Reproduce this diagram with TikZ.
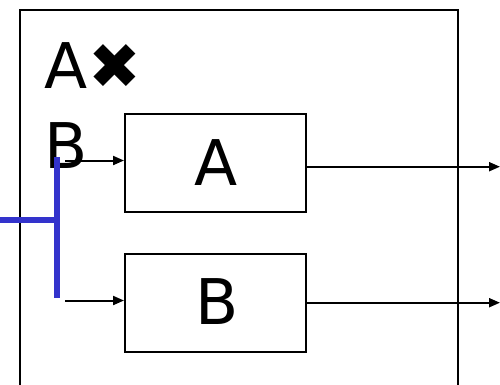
\documentclass[tikz,border=0pt]{standalone}
\usepackage{fontspec}
\setmainfont{DejaVu Sans}
\usetikzlibrary{arrows.meta}
\definecolor{blueline}{HTML}{3333CC}
\begin{document}
\begin{tikzpicture}[x=1pt,y=-1pt,
  box/.style={draw,line width=2pt,inner sep=0pt},
  conn/.style={line width=2pt,-{Triangle[length=11pt,width=9pt]}},
  lbl/.style={inner sep=0pt,font=\fontsize{63}{63}\selectfont},
  bus/.style={draw=blueline,line width=5.5pt}]
\useasboundingbox (0,0) rectangle (500,384);
% outer frame
\draw[line width=2pt] (19.5,390) -- (19.5,9.5) -- (458.3,9.5) -- (458.3,390);
% boxes
\node[box,minimum width=181pt,minimum height=98pt] (A) at (215.5,163) {};
\node[box,minimum width=181pt,minimum height=98pt] (B) at (215.5,303) {};
\node[lbl,anchor=base] (Atext) at (216,185) {A};
\node[lbl,anchor=base] (Btext) at (217,324.5) {B};
% left labels
\node[lbl,anchor=base west] (AX) at (44,88) {A\hspace{1pt}✖};
\node[lbl,anchor=base west] (Bl) at (44,168) {B};
% blue bus
\coordinate (bt) at (57,157);
\coordinate (bb) at (57,298);
\coordinate (bm) at (57,220);
\coordinate (bl) at (0,220);
\draw[bus] (bt) -- (bb);
\draw[bus] (bl) -- (bm);
% input arrows
\coordinate (ia) at (65,160.5);
\coordinate (ib) at (65,300.5);
\draw[conn] (ia) -- (ia -| A.west);
\draw[conn] (ib) -- (ib -| B.west);
% output arrows
\coordinate (oa) at (500,166.7);
\coordinate (ob) at (500,302.7);
\draw[conn] (oa -| A.east) -- (oa);
\draw[conn] (ob -| B.east) -- (ob);
\end{tikzpicture}
\end{document}
